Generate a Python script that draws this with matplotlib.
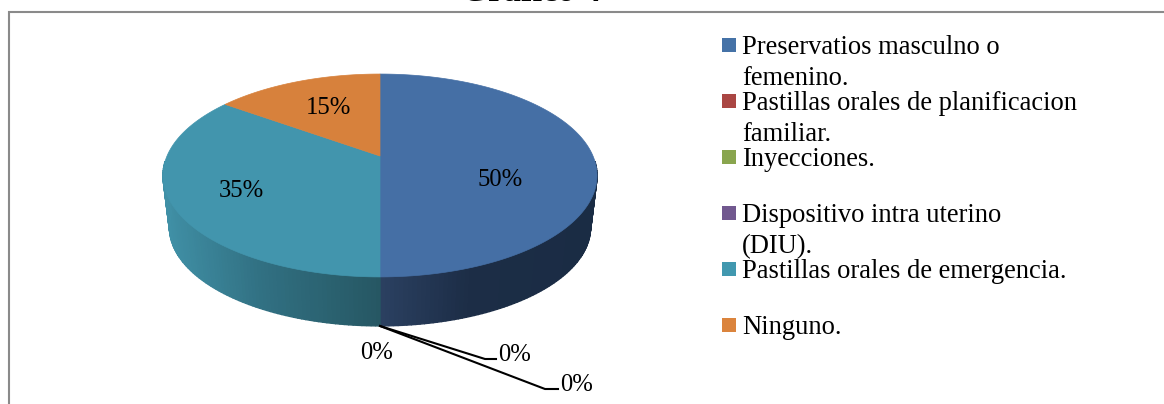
import matplotlib
matplotlib.use("Agg")
import matplotlib.pyplot as plt
from matplotlib.patches import Rectangle
import numpy as np

plt.rcParams['font.family'] = ['Liberation Serif', 'DejaVu Sans']

labels = ["Preservatios masculno o\nfemenino.", "Pastillas orales de planificacion\nfamiliar.",
          "Inyecciones.", "Dispositivo intra uterino\n(DIU).", "Pastillas orales de emergencia.", "Ninguno."]
values = [50, 0, 0, 0, 35, 15]
top_colors = ["#456fa5", "#aa4643", "#89a54e", "#71588f", "#4295ad", "#d7813c"]
legend_colors = ["#4572a7", "#aa4643", "#89a54e", "#71588f", "#4198af", "#db843d"]
pct_pos = [(500, 186), (377, 359), (515, 361), (577, 391), (241, 197), (328, 114)]

FS_PCT = 17.7
FS_LEG = 19.1
CX, CY = 380, 156     # apex of the pie
A, B, K = 97.7, 213.0, 0.192   # perspective of the tilted disc
DEPTH = 52.6
SHRINK = 0.97


def rim(theta):
    # theta runs clockwise from the top of the disc, in radians
    u, v = np.sin(theta), np.cos(theta)
    d = 1 + K * v
    return B * u / d, A * v / d


fig = plt.figure(figsize=(11.64, 4.04), dpi=100)
ax = fig.add_axes([0, 0, 1, 1])
ax.set_xlim(0, 1164)
ax.set_ylim(404, 0)
ax.axis("off")

edges = np.cumsum([0] + values) / sum(values) * 2 * np.pi

# side wall, shaded in thin strips from left to right
side_x = [163, 260, 379, 380, 470, 597]
side_r = [0x40, 0x31, 0x26, 0x2b, 0x1c, 0x1a]
side_g = [0x90, 0x70, 0x57, 0x40, 0x2d, 0x2c]
side_b = [0xa6, 0x82, 0x63, 0x61, 0x46, 0x44]
for i in range(len(values)):
    t0, t1 = edges[i], edges[i + 1]
    if values[i] == 0 or t0 > 5:
        continue
    ts = np.arange(t0, t1, np.radians(1.0))
    ts = np.append(ts, t1)
    for a, b in zip(ts[:-1], ts[1:]):
        if np.cos((a + b) / 2) > -0.05:
            continue
        xa, ya = rim(a)
        xb, yb = rim(b)
        xs = np.array([xa, xb, xb * SHRINK, xa * SHRINK]) + CX
        ys = CY - np.array([ya, yb, yb * SHRINK - DEPTH, ya * SHRINK - DEPTH])
        mx = CX + (xa + xb) / 2
        col = (np.interp(mx, side_x, side_r) / 255, np.interp(mx, side_x, side_g) / 255,
               np.interp(mx, side_x, side_b) / 255)
        ax.fill(xs, ys, color=col, lw=1.0)

# top face
for i in range(len(values)):
    if values[i] == 0:
        continue
    ts = np.linspace(edges[i], edges[i + 1], 200)
    x, y = rim(ts)
    ax.fill(np.r_[CX, CX + x], np.r_[CY, CY - y], color=top_colors[i], lw=0.5)

# leader lines for the empty slices
ax.plot([380, 485, 496], [326, 359, 359], color="black", lw=1.5)
ax.plot([380, 545, 558], [326, 389, 389], color="black", lw=1.5)

for v, (x, y) in zip(values, pct_pos):
    ax.text(x, y, f"{v}%", fontsize=FS_PCT, ha="center", va="baseline", color="black")

# legend
for i, (lab, col) in enumerate(zip(labels, legend_colors)):
    y = 38 + 56 * i
    ax.add_patch(Rectangle((722, y), 14, 14, facecolor=col, edgecolor="none"))
    for j, line in enumerate(lab.split("\n")):
        ax.text(742, y + 16 + 31 * j, line, fontsize=FS_LEG, ha="left", va="baseline", color="black")

# chart border, open on the right and at the bottom
ax.plot([9, 9, 1164], [404, 12, 12], color="#8a8a8a", lw=1.5, solid_joinstyle="miter")

# title sits mostly above the top edge
ax.text(531, 1.2, "Gráfico 4", fontsize=25, fontweight="bold", ha="center", va="baseline", color="black")

fig.savefig("out.png", dpi=100)
